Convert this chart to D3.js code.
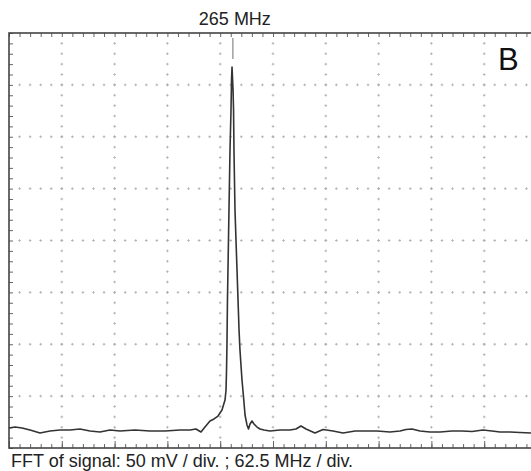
<!DOCTYPE html>
<html>
<head>
<meta charset="utf-8">
<script src="https://cdn.jsdelivr.net/npm/d3@7/dist/d3.min.js"></script>
<style>
  html, body { margin: 0; padding: 0; background: #fff; }
  svg { display: block; font-family: "Liberation Sans", Arial, sans-serif; }
</style>
</head>
<body>
<div id="chart"></div>
<script>
// FFT trace: frequency in MHz, amplitude in mV
const freqMHz = [
  0, 7.1, 15.4, 24.9, 36.7, 48.5, 60.4, 72.2, 84.0, 95.9, 107.7, 119.6, 131.4, 149.1,
  166.9, 184.7, 202.4, 214.3, 221.3, 227.3, 232.0, 237.9, 242.7, 247.4, 252.1, 255.7,
  256.9, 257.5, 258.0, 258.6, 259.2, 259.8, 260.4, 261.6, 262.8, 263.4, 264.0, 265.2,
  265.8, 266.3, 267.5, 268.7, 269.9, 271.1, 272.3, 273.4, 275.8, 277.6, 279.4, 281.7,
  283.5, 285.3, 287.6, 290.0, 293.6, 297.1, 301.8, 308.9, 320.8, 332.6, 339.7, 345.6,
  351.6, 362.2, 371.7, 383.5, 395.4, 409.6, 421.4, 435.6, 451.0, 462.8, 469.9, 477.0,
  486.5, 498.3, 510.2, 524.4, 536.2, 548.1, 561.1, 571.7, 581.2, 593.0, 604.9, 617.9
];
const amplitudeMV = [
  19.3, 20.2, 19.3, 17.3, 14.5, 16.4, 17.3, 17.3, 18.3, 16.4, 15.4, 17.3, 16.4, 17.3,
  16.4, 16.4, 17.3, 17.3, 18.3, 15.4, 20.2, 26.0, 28.0, 30.8, 36.6, 46.3,
  55.9, 75.2, 99.3, 142.7, 171.6, 200.5, 229.4, 287.2, 325.8, 354.7, 367.2, 345.1,
  325.8, 287.2, 229.4, 200.5, 171.6, 142.7, 113.7, 94.5, 65.5, 49.2, 31.8, 22.2,
  18.3, 23.1, 26.0, 23.1, 20.2, 18.3, 17.3, 16.4, 17.3, 17.3, 18.3, 21.2,
  18.3, 14.5, 17.8, 16.4, 14.5, 16.4, 16.4, 16.4, 15.4, 16.4, 17.8, 18.3,
  16.4, 15.4, 15.4, 16.4, 16.4, 15.9, 17.3, 16.4, 15.4, 15.4, 14.9, 14.5
];

// screen: 10 horizontal divisions of 62.5 MHz, 8 vertical of 50 mV
const xDivs = 10, xPerDiv = 62.5;
const yDivs = 8, yPerDiv = 50;
const peakMHz = 265;
const peakLabel = "265 MHz";
const panelLabel = "B";
const caption = "FFT of signal: 50 mV / div. ; 62.5 MHz / div.";

const W = 531, H = 471;
const plotLeft = 9, plotTop = 33, plotW = 528, plotH = 415;

const svg = d3.select('#chart').append('svg')
  .attr('width', W).attr('height', H)
  .attr('viewBox', `0 0 ${W} ${H}`);

const x = d3.scaleLinear().domain([0, xDivs * xPerDiv]).range([plotLeft, plotLeft + plotW]);
const y = d3.scaleLinear().domain([0, yDivs * yPerDiv]).range([plotTop + plotH, plotTop]);

const xMajor = d3.range(0, xDivs + 1).map(i => i * xPerDiv);
const yMajor = d3.range(0, yDivs + 1).map(i => i * yPerDiv);
const xMinor = d3.range(0, xDivs * 5 + 1).map(i => i * xPerDiv / 5);
const yMinor = d3.range(0, yDivs * 5 + 1).map(i => i * yPerDiv / 5);

const dotColor = '#b0b0b0';
const grid = svg.append('g').attr('class', 'grid');

// dotted graticule: small crosses on the major lines at every minor step
const dots = [];
xMajor.slice(1, -1).forEach(xv => yMinor.slice(1, -1).forEach(yv => dots.push([x(xv), y(yv)])));
yMajor.slice(1, -1).forEach(yv => xMinor.slice(1, -1).forEach(xv => dots.push([x(xv), y(yv)])));
grid.selectAll('path.dot').data(dots).join('path')
  .attr('class', 'dot')
  .attr('d', d => `M${d[0] - 1.3},${d[1]}h2.6M${d[0]},${d[1] - 1.3}v2.6`)
  .attr('stroke', dotColor)
  .attr('stroke-width', 0.9)
  .attr('fill', 'none');

// border ticks (pointing inward)
const tickColor = '#666';
function styleAxis(g) {
  g.select('.domain').remove();
  g.selectAll('line').attr('stroke', tickColor).attr('stroke-width', 1);
  g.selectAll('text').remove();
}
svg.append('g').attr('transform', `translate(0,${plotTop})`)
  .call(d3.axisBottom(x).tickValues(xMinor).tickSize(4).tickFormat(''))
  .call(styleAxis);
svg.append('g').attr('transform', `translate(0,${plotTop + plotH})`)
  .call(d3.axisTop(x).tickValues(xMinor).tickSize(4).tickFormat(''))
  .call(styleAxis);
svg.append('g').attr('transform', `translate(0,${plotTop + plotH})`)
  .call(d3.axisTop(x).tickValues(xMajor).tickSize(7).tickFormat(''))
  .call(styleAxis);
svg.append('g').attr('transform', `translate(${plotLeft},0)`)
  .call(d3.axisRight(y).tickValues(yMinor).tickSize(4).tickFormat(''))
  .call(styleAxis);
svg.append('g').attr('transform', `translate(${plotLeft + plotW},0)`)
  .call(d3.axisLeft(y).tickValues(yMinor).tickSize(4).tickFormat(''))
  .call(styleAxis);

// frame
svg.append('rect')
  .attr('x', plotLeft).attr('y', plotTop)
  .attr('width', plotW).attr('height', plotH)
  .attr('fill', 'none')
  .attr('stroke', '#444')
  .attr('stroke-width', 1.6);

// marker above the peak
svg.append('line')
  .attr('x1', x(peakMHz)).attr('x2', x(peakMHz))
  .attr('y1', plotTop + 5).attr('y2', plotTop + 26)
  .attr('stroke', '#888')
  .attr('stroke-width', 1.2);

// trace
const trace = freqMHz.map((f, i) => [f, amplitudeMV[i]]);
svg.append('path')
  .datum(trace)
  .attr('d', d3.line().x(d => x(d[0])).y(d => y(d[1])))
  .attr('fill', 'none')
  .attr('stroke', '#333')
  .attr('stroke-width', 1.6)
  .attr('stroke-linejoin', 'round');

// labels
svg.append('text')
  .attr('x', x(peakMHz) + 2).attr('y', 25)
  .attr('text-anchor', 'middle')
  .attr('font-size', 18)
  .attr('fill', '#222')
  .text(peakLabel);

svg.append('text')
  .attr('x', 498).attr('y', 70)
  .attr('font-size', 31)
  .attr('fill', '#111')
  .text(panelLabel);

svg.append('text')
  .attr('x', 11).attr('y', 467)
  .attr('font-size', 18)
  .attr('fill', '#222')
  .text(caption);
</script>
</body>
</html>
